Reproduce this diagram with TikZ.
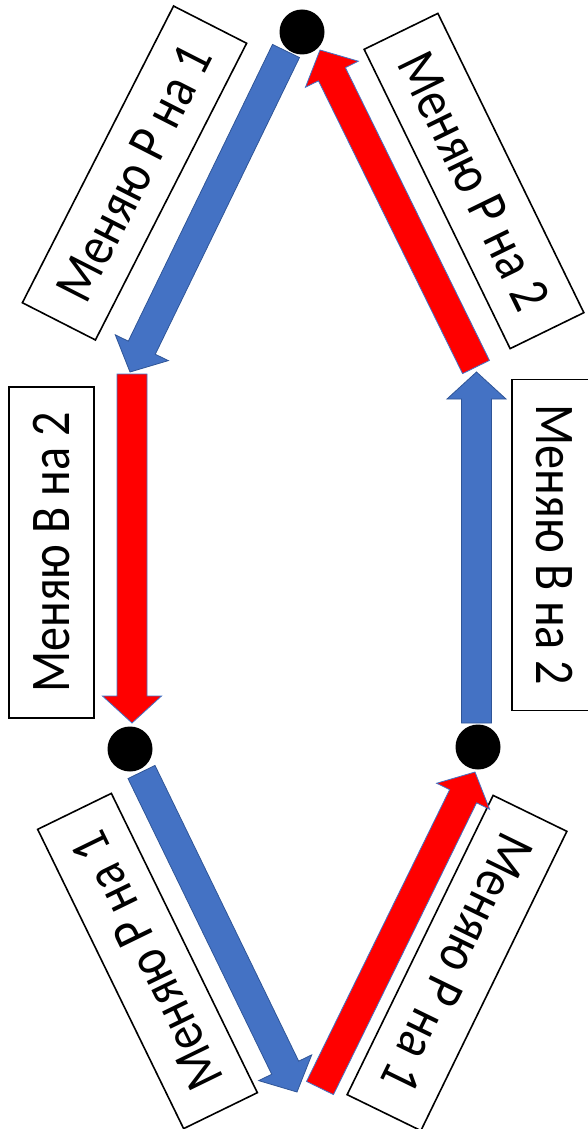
\documentclass[tikz,border=0pt]{standalone}
\usepackage{fontspec}
\setmainfont{Carlito}
\usetikzlibrary{calc}
\definecolor{ablue}{HTML}{4472C4}
\definecolor{aedge}{HTML}{2F5597}
\definecolor{ared}{HTML}{FF0000}
\tikzset{
  lbl/.style={draw=black, line width=1.6pt, fill=white, minimum width=333pt,
    minimum height=82pt, inner sep=0pt, anchor=center,
    font=\fontsize{56}{60}\selectfont},
  vlbl/.style={lbl, minimum width=331pt, minimum height=85pt},
  dot/.style={circle, fill=black, minimum size=45pt, inner sep=0pt},
  bluearr/.style={fill=ablue, draw=aedge, line width=0.8pt, line join=miter},
  redarr/.style={fill=ared, draw=ablue, line width=0.8pt, line join=miter},
}
\newcommand{\blockarrow}[3]{%
  \coordinate (hb) at ($(#2)!27pt!(#1)$);
  \path[#3] ($(#1)!15pt!90:(#2)$) -- ($(hb)!15pt!90:(#2)$) -- ($(hb)!29.5pt!90:(#2)$)
    -- (#2) -- ($(hb)!29.5pt!-90:(#2)$) -- ($(hb)!15pt!-90:(#2)$)
    -- ($(#1)!15pt!-90:(#2)$) -- cycle;
}
\newcommand{\lt}[1]{\scalebox{0.86}[1]{#1}}
\begin{document}
\begin{tikzpicture}[x=1pt,y=-1pt]
\useasboundingbox (0,0) rectangle (588,1129);
% label boxes
\node[lbl, rotate=63]   (b1) at (134.5,173) {\lt{Меняю Р на 1}};
\node[lbl, rotate=-64]  (b6) at (474,181)   {\lt{Меняю Р на 2}};
\node[vlbl, rotate=90]  (b2) at (51.5,552.5) {\lt{Меняю В на 2}};
\node[vlbl, rotate=-90] (b5) at (554.5,545)  {\lt{Меняю В на 2}};
\node[lbl, rotate=116]  (b3) at (147.5,961) {\lt{Меняю Р на 1}};
\node[lbl, rotate=-116] (b4) at (457,963)   {\lt{Меняю Р на 1}};
% dots
\node[dot] (top) at (302,32) {};
\node[dot] (lm)  at (130,749) {};
\node[dot] (rm)  at (478,747) {};
% arrow end points
\coordinate (a1s) at (286,51);   \coordinate (a1e) at (130,372);
\coordinate (a2s) at (132,374);  \coordinate (a2e) at (132,723);
\coordinate (a3s) at (141.5,772);\coordinate (a3e) at (297,1092);
\coordinate (a4s) at (320,1088); \coordinate (a4e) at (475,772);
\coordinate (a5s) at (476.5,723);\coordinate (a5e) at (476.5,372);
\coordinate (a6s) at (476,367);  \coordinate (a6e) at (320,50);
\blockarrow{a1s}{a1e}{bluearr}
\blockarrow{a2s}{a2e}{redarr}
\blockarrow{a3s}{a3e}{bluearr}
\blockarrow{a4s}{a4e}{redarr}
\blockarrow{a5s}{a5e}{bluearr}
\blockarrow{a6s}{a6e}{redarr}
\end{tikzpicture}
\end{document}
